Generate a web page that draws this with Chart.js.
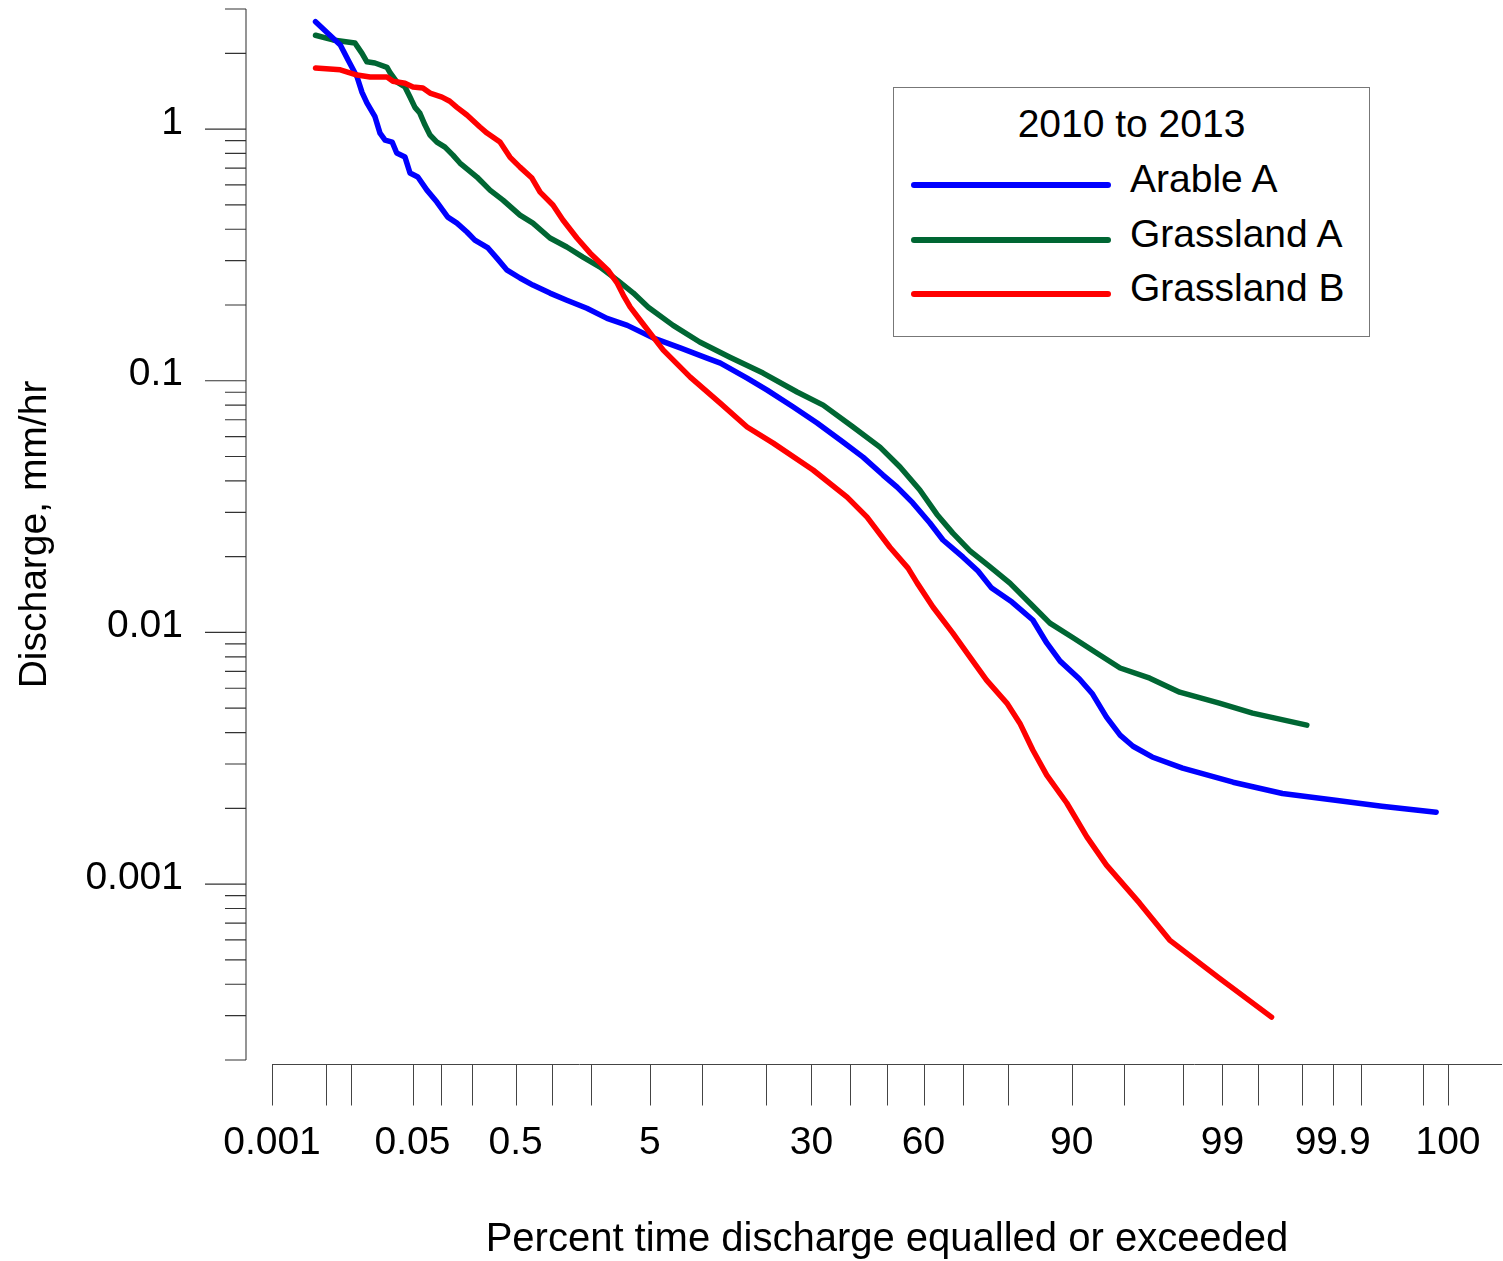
<!DOCTYPE html>
<html>
<head>
<meta charset="utf-8">
<script src="https://cdn.jsdelivr.net/npm/chart.js@4.4.1/dist/chart.umd.min.js"></script>
<style>
  body { margin: 0; background: #fff; }
  #wrap { position: relative; width: 1503px; height: 1261px; font-family: "Liberation Sans", Arial, sans-serif; }
  #legend { position: absolute; left: 893px; top: 87px; width: 477px; height: 250px; box-sizing: border-box; border: 1px solid #777; background: #fff; }
  #legend .title { position: absolute; left: 0; right: 0; top: 13px; text-align: center; font-size: 39px; line-height: 46px; }
  #legend .swatch { position: absolute; left: 17px; width: 200px; height: 5.5px; border-radius: 3px; }
  #legend .label { position: absolute; left: 236px; font-size: 39px; line-height: 46px; white-space: nowrap; }
</style>
</head>
<body>
<div id="wrap">
  <canvas id="chart" width="1503" height="1261"></canvas>
  <div id="legend"></div>
</div>
<script>
// percent of time exceeded (x) and discharge mm/hr (y)
const arablePct = [0.0037, 0.0075, 0.0093, 0.0119, 0.0136, 0.0155, 0.0192, 0.0219, 0.025, 0.030, 0.0337, 0.0415, 0.047, 0.057, 0.071, 0.090, 0.116, 0.143, 0.179, 0.213, 0.283, 0.341, 0.421, 0.546, 0.703, 0.971, 1.32, 1.87, 2.61, 3.59, 5.23, 7.58, 10.6, 12.4, 16.6, 20.3, 25.8, 31.4, 38.0, 43.4, 48.9, 52.8, 57.1, 61.7, 65.1, 70.1, 73.6, 76.6, 80.7, 84.4, 86.6, 88.5, 90.9, 92.3, 93.6, 94.7, 95.6, 96.7, 97.98, 99.18, 99.695, 99.902, 99.970, 99.993];
const arableQ = [2.67, 2.16, 1.88, 1.61, 1.40, 1.27, 1.12, 0.964, 0.904, 0.888, 0.803, 0.774, 0.669, 0.645, 0.572, 0.513, 0.447, 0.423, 0.390, 0.362, 0.337, 0.307, 0.275, 0.256, 0.240, 0.223, 0.209, 0.194, 0.177, 0.166, 0.148, 0.135, 0.123, 0.1175, 0.1025, 0.0918, 0.0786, 0.0679, 0.0571, 0.0497, 0.0422, 0.0378, 0.0327, 0.0272, 0.0233, 0.0199, 0.01754, 0.0150, 0.0132, 0.0112, 0.00908, 0.00769, 0.00653, 0.00569, 0.00461, 0.00391, 0.00353, 0.00320, 0.00289, 0.00254, 0.00229, 0.00216, 0.00204, 0.00193];

const grassAPct = [0.0037, 0.0061, 0.0112, 0.0136, 0.0155, 0.0192, 0.0263, 0.0283, 0.0337, 0.0415, 0.047, 0.0531, 0.0598, 0.0678, 0.0764, 0.090, 0.1087, 0.1306, 0.153, 0.223, 0.295, 0.387, 0.546, 0.703, 0.971, 1.32, 1.75, 2.33, 3.07, 3.93, 4.89, 6.90, 9.7, 13.8, 19.5, 26.65, 32.9, 40.7, 48.05, 53.6, 59.0, 63.5, 67.6, 71.75, 75.8, 80.3, 84.4, 87.07, 90.2, 92.7, 94.7, 96.58, 97.88, 98.94, 99.438, 99.82];
const grassAQ = [2.36, 2.26, 2.20, 2.00, 1.85, 1.83, 1.76, 1.68, 1.54, 1.47, 1.34, 1.22, 1.158, 1.037, 0.947, 0.888, 0.848, 0.788, 0.733, 0.645, 0.572, 0.522, 0.455, 0.423, 0.369, 0.340, 0.310, 0.283, 0.251, 0.223, 0.196, 0.166, 0.1425, 0.124, 0.1073, 0.0902, 0.080, 0.0655, 0.0545, 0.0454, 0.0368, 0.0295, 0.0248, 0.0211, 0.0185, 0.0157, 0.01273, 0.01089, 0.0095, 0.00828, 0.00722, 0.00658, 0.00579, 0.00524, 0.00478, 0.00428];

const grassBPct = [0.0037, 0.0075, 0.0119, 0.0169, 0.0263, 0.0306, 0.0415, 0.0506, 0.0644, 0.0764, 0.1014, 0.1216, 0.143, 0.179, 0.238, 0.277, 0.364, 0.446, 0.546, 0.690, 0.807, 1.026, 1.23, 1.576, 1.97, 2.65, 3.07, 3.37, 3.75, 4.35, 6.04, 8.62, 12.37, 16.6, 21.5, 30.4, 39.1, 44.5, 50.8, 55.8, 58.3, 62.5, 67.6, 71.75, 75.5, 79.7, 82.15, 84.4, 86.6, 89.37, 91.71, 93.6, 96.01, 97.5, 98.94, 99.617];
const grassBQ = [1.75, 1.72, 1.64, 1.61, 1.61, 1.55, 1.52, 1.47, 1.455, 1.39, 1.34, 1.29, 1.22, 1.137, 1.019, 0.964, 0.888, 0.774, 0.706, 0.639, 0.562, 0.499, 0.435, 0.369, 0.322, 0.275, 0.244, 0.219, 0.196, 0.174, 0.1324, 0.1034, 0.0815, 0.0655, 0.0565, 0.0442, 0.0345, 0.0287, 0.0218, 0.0180, 0.0157, 0.01262, 0.00994, 0.00798, 0.00646, 0.00524, 0.00436, 0.00341, 0.00271, 0.0021, 0.00154, 0.00119, 0.00084, 0.000599, 0.000423, 0.000296];

const seriesNames = ['Arable A', 'Grassland A', 'Grassland B'];
const legendTitle = '2010 to 2013';

// axes
const xMin = 0.001, xMax = 99.999;
const xTickMarks = [0.001, 0.005, 0.01, 0.05, 0.1, 0.2, 0.5, 1, 2, 5, 10, 20, 30, 40, 50, 60, 70, 80, 90, 95, 98, 99, 99.5, 99.8, 99.9, 99.95, 99.99, 99.995];
const xLabelAt = [0.001, 0.05, 0.5, 5, 30, 60, 90, 99, 99.9, 99.995];
const xLabelText = ['0.001', '0.05', '0.5', '5', '30', '60', '90', '99', '99.9', '100'];
const yMin = 0.0002, yMax = 3;
const yLabelAt = [0.001, 0.01, 0.1, 1];
const yLabelText = ['0.001', '0.01', '0.1', '1'];

const colors = ['#0000ff', '#006633', '#ff0000'];
const fontFamily = '"Liberation Sans", Arial, sans-serif';

// inverse of the normal distribution (Acklam), used by the probability axis
function probit(p) {
    const a = [-3.969683028665376e+01, 2.209460984245205e+02, -2.759285104469687e+02, 1.383577518672690e+02, -3.066479806614716e+01, 2.506628277459239e+00];
    const b = [-5.447609879822406e+01, 1.615858368580409e+02, -1.556989798598866e+02, 6.680131188771972e+01, -1.328068155288572e+01];
    const c = [-7.784894002430293e-03, -3.223964580411365e-01, -2.400758277161838e+00, -2.549732539343734e+00, 4.374664141464968e+00, 2.938163982698783e+00];
    const d = [7.784695709041462e-03, 3.224671290700398e-01, 2.445134137142996e+00, 3.754408661907416e+00];
    const lo = 0.02425;
    if (p < lo) {
        const q = Math.sqrt(-2 * Math.log(p));
        return (((((c[0]*q + c[1])*q + c[2])*q + c[3])*q + c[4])*q + c[5]) / ((((d[0]*q + d[1])*q + d[2])*q + d[3])*q + 1);
    }
    if (p > 1 - lo) {
        const q = Math.sqrt(-2 * Math.log(1 - p));
        return -(((((c[0]*q + c[1])*q + c[2])*q + c[3])*q + c[4])*q + c[5]) / ((((d[0]*q + d[1])*q + d[2])*q + d[3])*q + 1);
    }
    const q = p - 0.5, r = q * q;
    return (((((a[0]*r + a[1])*r + a[2])*r + a[3])*r + a[4])*r + a[5]) * q / (((((b[0]*r + b[1])*r + b[2])*r + b[3])*r + b[4])*r + 1);
}

class ProbabilityScale extends Chart.Scale {
    static id = 'probability';
    static defaults = {};
    parse(raw) {
        return raw === null || raw === undefined ? null : +raw;
    }
    determineDataLimits() {
        this.min = this.options.min;
        this.max = this.options.max;
    }
    buildTicks() {
        return xLabelAt.map(v => ({ value: v }));
    }
    configure() {
        super.configure();
        this._zStart = probit(this.min / 100);
        this._zRange = probit(this.max / 100) - this._zStart;
    }
    getLabelForValue(v) {
        return String(v);
    }
    getPixelForValue(v) {
        return this.getPixelForDecimal((probit(v / 100) - this._zStart) / this._zRange);
    }
    getValueForPixel() {
        return null;
    }
}
Chart.register(ProbabilityScale);

function toPoints(xs, ys) {
    let pts = [];
    for (let i = 0; i < xs.length; i++) {
        pts.push({ x: xs[i], y: ys[i] });
    }
    return pts;
}

// axis lines and tick marks, offset from the plot like the original
const axisDecor = {
    id: 'axisDecor',
    afterDraw(chart) {
        const { ctx, chartArea, scales } = chart;
        const x = scales.x, y = scales.y;
        const yAxisX = chartArea.left - 26;
        const xAxisY = chartArea.bottom + 4.5;
        ctx.save();

        ctx.strokeStyle = '#7a7a7a';
        ctx.lineWidth = 1.6;
        ctx.beginPath();
        ctx.moveTo(yAxisX, y.getPixelForValue(yMax));
        ctx.lineTo(yAxisX, y.getPixelForValue(yMin));
        ctx.stroke();

        ctx.strokeStyle = '#333';
        ctx.lineWidth = 1.2;
        ctx.beginPath();
        for (let e = -4; e <= 0; e++) {
            for (let m = 1; m <= 9; m++) {
                const v = m * Math.pow(10, e);
                if (v < yMin * 0.999 || v > yMax * 1.001) continue;
                const py = y.getPixelForValue(v);
                const len = m === 1 ? 41 : 21;
                ctx.moveTo(yAxisX - len, py);
                ctx.lineTo(yAxisX, py);
            }
        }
        ctx.stroke();

        ctx.strokeStyle = '#444';
        ctx.lineWidth = 1;
        ctx.beginPath();
        ctx.moveTo(x.getPixelForValue(xMin), xAxisY);
        ctx.lineTo(chartArea.right, xAxisY);
        for (let i = 0; i < xTickMarks.length; i++) {
            const px = Math.round(x.getPixelForValue(xTickMarks[i])) + 0.5;
            ctx.moveTo(px, xAxisY);
            ctx.lineTo(px, xAxisY + 41);
        }
        ctx.stroke();
        ctx.restore();
    }
};

Chart.defaults.font.family = fontFamily;
Chart.defaults.color = '#000';

const datasets = [
    { label: seriesNames[0], data: toPoints(arablePct, arableQ), borderColor: colors[0], order: 2 },
    { label: seriesNames[1], data: toPoints(grassAPct, grassAQ), borderColor: colors[1], order: 3 },
    { label: seriesNames[2], data: toPoints(grassBPct, grassBQ), borderColor: colors[2], order: 1 }
];

const myChart = new Chart(document.getElementById('chart'), {
    type: 'line',
    data: { datasets: datasets },
    options: {
        responsive: false,
        animation: false,
        events: [],
        parsing: { xAxisKey: 'x', yAxisKey: 'y' },
        layout: { autoPadding: false, padding: { top: 9, right: 1, bottom: 0, left: 0 } },
        plugins: {
            legend: { display: false },
            tooltip: { enabled: false }
        },
        elements: {
            point: { radius: 0 },
            line: { borderWidth: 5.5, tension: 0, borderCapStyle: 'round', borderJoinStyle: 'round', fill: false }
        },
        scales: {
            x: {
                type: 'probability',
                position: 'bottom',
                min: xMin,
                max: xMax,
                grid: { display: false, drawTicks: false },
                border: { display: false },
                ticks: {
                    autoSkip: false,
                    minRotation: 0,
                    maxRotation: 0,
                    padding: 60,
                    font: { size: 39 },
                    color: '#000',
                    callback: (v, i) => xLabelText[i]
                },
                title: {
                    display: true,
                    text: 'Percent time discharge equalled or exceeded',
                    font: { size: 40 },
                    color: '#000',
                    padding: { top: 0, bottom: -3 }
                },
                afterFit: s => {
                    s.height = 201;
                    s.paddingLeft = 0;
                    s.paddingRight = 0;
                }
            },
            y: {
                type: 'logarithmic',
                position: 'left',
                min: yMin,
                max: yMax,
                grid: { display: false, drawTicks: false },
                border: { display: false },
                afterBuildTicks: s => { s.ticks = yLabelAt.map(v => ({ value: v })); },
                ticks: {
                    padding: 89,
                    labelOffset: -6,
                    font: { size: 39 },
                    color: '#000',
                    callback: (v, i) => yLabelText[i]
                },
                title: {
                    display: true,
                    text: 'Discharge, mm/hr',
                    font: { size: 39 },
                    color: '#000',
                    padding: { top: 12, bottom: 0 }
                },
                afterFit: s => {
                    s.width = 272;
                    s.paddingTop = 0;
                    s.paddingBottom = 0;
                }
            }
        }
    },
    plugins: [axisDecor]
});

// legend box built from the chart's datasets
function montarLegenda(chart) {
    const box = document.getElementById('legend');
    const title = document.createElement('div');
    title.className = 'title';
    title.textContent = legendTitle;
    box.appendChild(title);
    const swatchTop = [94, 149, 203];
    const labelTop = [68, 123, 177];
    chart.data.datasets.forEach((ds, i) => {
        const sw = document.createElement('div');
        sw.className = 'swatch';
        sw.style.top = swatchTop[i] + 'px';
        sw.style.background = ds.borderColor;
        box.appendChild(sw);
        const lb = document.createElement('div');
        lb.className = 'label';
        lb.style.top = labelTop[i] + 'px';
        lb.textContent = ds.label;
        box.appendChild(lb);
    });
}
montarLegenda(myChart);
</script>
</body>
</html>
